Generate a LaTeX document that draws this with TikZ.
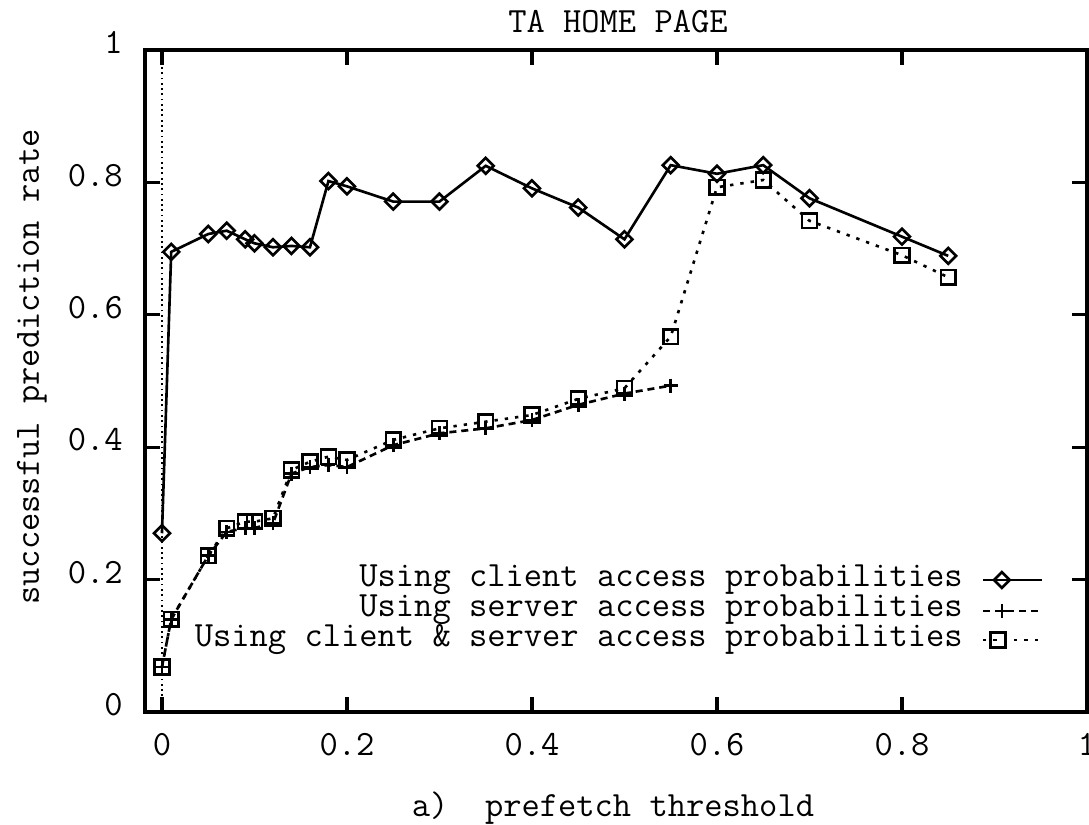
\documentclass[tikz,border=0pt]{standalone}
\usetikzlibrary{plotmarks}

\begin{document}
\begin{tikzpicture}[x=18.5cm,y=13.24cm,
  font=\fontsize{20.2}{24}\selectfont\ttfamily,
  frameline/.style={line width=1.9pt},
  clientline/.style={line width=1.5pt,mark=square,mark size=3.2pt,mark options={solid,rotate=45}},
  serverline/.style={line width=1.5pt,dash pattern=on 4pt off 2.8pt,mark=+,mark size=4pt,mark options={solid}},
  bothline/.style={line width=1.5pt,dash pattern=on 1.9pt off 4pt,mark=square,mark size=4.2pt,mark options={solid}},
  ticklbl/.style={inner sep=0pt}]
\useasboundingbox (-0.1751,-0.1707) rectangle (1.0022,1.0755);
\coordinate (ll) at (-0.0184,0);
\coordinate (ur) at (1,1);
\draw[frameline] (ll) rectangle (ur);
\draw[dotted,line width=1pt] (0,0) -- (0,1);
\foreach \x [count=\i] in {0,0.2,0.4,0.6,0.8,1} {
  \draw[frameline] (\x,0) -- ++(0,0.0227);
  \draw[frameline] (\x,1) -- ++(0,-0.0227);
  \node[ticklbl,anchor=base] (xt\i) at (\x,-0.065) {\x};
}
\foreach \y [count=\i] in {0,0.2,0.4,0.6,0.8,1} {
  \draw[frameline] (-0.0184,\y) -- ++(0.0162,0);
  \draw[frameline] (1,\y) -- ++(-0.0162,0);
  \node[ticklbl,anchor=mid east] (yt\i) at (-0.042,\y) {\y};
}
\node[anchor=base] (title) at (0.493,1.0257) {TA HOME PAGE};
\node[anchor=base] (xlab) at (0.4876,-0.1586) {a)~~prefetch threshold};
\node[rotate=90,anchor=base] (ylab) at (-0.133,0.521) {successful prediction rate};

\draw[clientline] plot coordinates {(0,0.27) (0.01,0.695) (0.05,0.722) (0.07,0.727) (0.09,0.714) (0.10,0.708) (0.12,0.702) (0.14,0.704) (0.16,0.702) (0.18,0.802) (0.20,0.794) (0.25,0.771) (0.30,0.771) (0.35,0.825) (0.40,0.791) (0.45,0.762) (0.50,0.714) (0.55,0.826) (0.60,0.813) (0.65,0.826) (0.70,0.776) (0.80,0.718) (0.85,0.689)};
\draw[serverline] plot coordinates {(0,0.068) (0.01,0.14) (0.05,0.236) (0.07,0.272) (0.09,0.278) (0.10,0.278) (0.12,0.285) (0.14,0.36) (0.16,0.37) (0.18,0.373) (0.20,0.37) (0.25,0.403) (0.30,0.421) (0.35,0.4285) (0.40,0.441) (0.45,0.464) (0.50,0.481) (0.55,0.493)};
\draw[bothline] plot coordinates {(0,0.068) (0.01,0.14) (0.05,0.236) (0.07,0.2775) (0.09,0.2875) (0.10,0.2875) (0.12,0.2926) (0.14,0.3656) (0.16,0.378) (0.18,0.3857) (0.20,0.3807) (0.25,0.411) (0.30,0.4285) (0.35,0.4385) (0.40,0.4486) (0.45,0.473) (0.50,0.489) (0.55,0.567) (0.60,0.7926) (0.65,0.8036) (0.70,0.742) (0.80,0.690) (0.85,0.6566)};

\node[ticklbl,anchor=base east] (key1) at (0.866,0.189) {Using client access probabilities};
\node[ticklbl,anchor=base east] (key2) at (0.866,0.144) {Using server access probabilities};
\node[ticklbl,anchor=base east] (key3) at (0.866,0.099) {Using client \& server access probabilities};
\draw[clientline] plot coordinates {(0.908,0.1994)};
\draw[line width=1.5pt] (0.8876,0.1994) -- (0.9514,0.1994);
\draw[serverline] plot coordinates {(0.908,0.1526)};
\draw[line width=1.5pt,dash pattern=on 4pt off 2.8pt] (0.8876,0.1526) -- (0.9514,0.1526);
\draw[bothline] plot coordinates {(0.904,0.1088)};
\draw[line width=1.5pt,dash pattern=on 1.9pt off 4pt] (0.8876,0.1088) -- (0.9514,0.1088);
\end{tikzpicture}
\end{document}
